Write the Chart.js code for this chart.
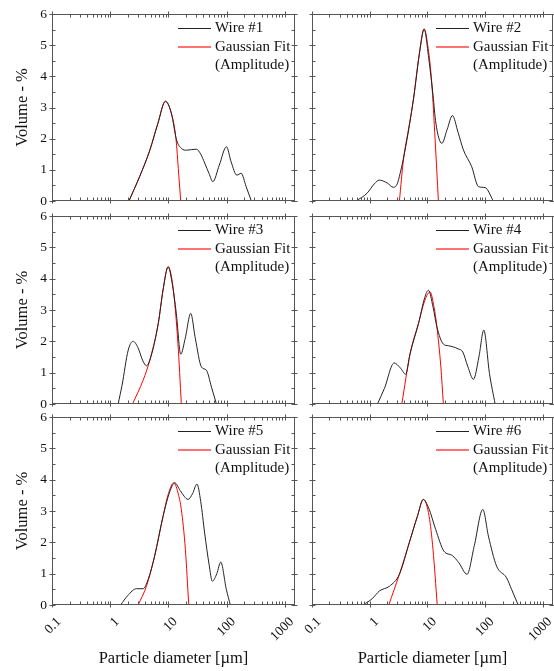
<!DOCTYPE html>
<html>
<head>
<meta charset="utf-8">
<title>Particle size distribution - wires 1 to 6</title>
<script src="https://cdn.jsdelivr.net/npm/chart.js@4.4.1/dist/chart.umd.min.js"></script>
<style>
  body { margin: 0; background: #fff; }
  #page { position: relative; width: 554px; height: 671px; overflow: hidden; }
  #page canvas { position: absolute; }
</style>
</head>
<body>
<div id="page"></div>
<script>
// tick labels
const xTickValues = [0.1, 1, 10, 100, 1000];
const yTickValues = [0, 1, 2, 3, 4, 5, 6];

// wire #1
const wire1Size = [2.1, 3.2, 4.8, 6.6, 8.9, 11.3, 13.8, 17, 20.4, 25, 30.4, 36, 42, 50, 58, 75, 99.6, 120, 150, 178, 217, 267];
const wire1Vol  = [0, 0.78, 1.63, 2.49, 3.2, 2.8, 1.96, 1.68, 1.63, 1.65, 1.66, 1.5, 1.22, 0.88, 0.62, 1.15, 1.74, 1.25, 0.83, 0.89, 0.46, 0];
const fit1Size  = [2.1, 3.2, 4.8, 6.6, 8.9, 11.3, 13.5, 15, 16.3];
const fit1Vol   = [0, 0.78, 1.63, 2.49, 3.2, 2.8, 2.0, 0.9, 0];

// wire #2
const wire2Size = [0.58, 0.9, 1.2, 1.47, 2.0, 2.57, 3.0, 3.37, 4.2, 5.7, 7.5, 8.77, 10.5, 12.5, 14, 17.8, 22, 27.1, 34, 42, 58.6, 76.7, 100, 139];
const wire2Vol  = [0, 0.25, 0.55, 0.67, 0.58, 0.44, 0.55, 0.89, 1.74, 3.24, 4.9, 5.52, 4.6, 3.4, 2.5, 1.85, 2.3, 2.74, 2.2, 1.64, 1.1, 0.46, 0.43, 0];
const fit2Size  = [3.27, 3.84, 4.7, 5.7, 7.2, 8.77, 10.3, 11.9, 13.6, 15.5];
const fit2Vol   = [0, 1.32, 2.3, 3.24, 4.7, 5.52, 4.9, 3.78, 1.96, 0];

// wire #3
const wire3Size = [1.37, 1.6, 2.04, 2.48, 3.0, 3.6, 4.2, 4.8, 6.7, 8.1, 9.9, 11.5, 13.7, 16.3, 19.5, 24.2, 29, 37, 45, 55, 67];
const wire3Vol  = [0, 0.6, 1.72, 2.0, 1.8, 1.4, 1.22, 1.4, 2.57, 3.64, 4.38, 3.9, 2.89, 1.59, 2.1, 2.89, 2.1, 1.18, 1.08, 0.54, 0];
const fit3Size  = [2.42, 3.68, 4.8, 6.7, 8.1, 9.9, 12, 14.6, 16.7];
const fit3Vol   = [0, 0.76, 1.4, 2.57, 3.64, 4.38, 3.74, 1.93, 0];

// wire #4
const wire4Size = [1.36, 1.8, 2.65, 3.4, 4.2, 5.0, 7.0, 9, 10.4, 12.5, 14.6, 18.9, 23, 28.2, 34, 41, 50, 62.7, 78, 94.8, 119, 149];
const wire4Vol  = [0, 0.5, 1.31, 1.15, 0.95, 1.6, 2.57, 3.4, 3.63, 3.1, 2.46, 1.91, 1.86, 1.82, 1.76, 1.66, 1.2, 0.79, 1.5, 2.36, 0.97, 0];
const fit4Size  = [3.6, 5.0, 7.0, 9.0, 11.1, 13, 14.6, 17.1, 18.9];
const fit4Vol   = [0, 1.6, 2.57, 3.3, 3.58, 3.1, 2.46, 1.18, 0];

// wire #5
const wire5Size = [1.51, 2.0, 2.83, 3.68, 4.5, 5.8, 8.1, 10.5, 12.9, 16, 21.8, 26, 31, 36, 42, 50, 57, 68, 79.4, 99, 116];
const wire5Vol  = [0, 0.3, 0.52, 0.52, 0.82, 1.56, 2.83, 3.6, 3.9, 3.65, 3.37, 3.55, 3.86, 3.3, 2.3, 1.3, 0.76, 1.0, 1.37, 0.5, 0];
const fit5Size  = [3.02, 4.2, 5.8, 8.1, 10, 12.4, 15, 16.7, 19.6, 22.4];
const fit5Vol   = [0, 0.6, 1.56, 2.83, 3.55, 3.9, 3.5, 3.05, 1.77, 0];

// wire #6
const wire6Size = [0.77, 1.1, 1.48, 2.2, 3.27, 4.85, 6.7, 8.5, 10.5, 13.9, 19.3, 26.9, 35, 48.6, 65, 91.2, 114, 158, 235, 287, 374];
const wire6Vol  = [0, 0.2, 0.45, 0.6, 0.98, 1.99, 2.83, 3.37, 3.1, 2.41, 1.72, 1.58, 1.35, 0.98, 1.9, 3.05, 2.2, 1.24, 0.87, 0.5, 0];
const fit6Size  = [2.14, 3.27, 4.85, 6.7, 8.5, 10.7, 12.5, 14.8];
const fit6Vol   = [0, 0.98, 1.99, 2.83, 3.37, 2.83, 1.77, 0];

const wireNames = ["Wire #1", "Wire #2", "Wire #3", "Wire #4", "Wire #5", "Wire #6"];
const fitName = ["Gaussian Fit", "(Amplitude)"];

const wires = [
  [wire1Size, wire1Vol, fit1Size, fit1Vol],
  [wire2Size, wire2Vol, fit2Size, fit2Vol],
  [wire3Size, wire3Vol, fit3Size, fit3Vol],
  [wire4Size, wire4Vol, fit4Size, fit4Vol],
  [wire5Size, wire5Vol, fit5Size, fit5Vol],
  [wire6Size, wire6Vol, fit6Size, fit6Vol],
];

const DATA_COLOR = "#222222";
const FIT_COLOR = "#ff0000";
const legendColors = [DATA_COLOR, FIT_COLOR];

const serif = "'Liberation Serif', 'Times New Roman', serif";
Chart.defaults.font.family = serif;
Chart.defaults.color = "#111";

// canvas boxes: columns and rows
const cols = [
  { left: 0, width: 300, yWidth: 52, padRight: 5 },
  { left: 300, width: 254, yWidth: 12, padRight: 1 },
];
const rows = [
  { top: 0, height: 208, padTop: 14, xHeight: 7 },
  { top: 208, height: 202, padTop: 8, xHeight: 6 },
  { top: 410, height: 261, padTop: 7, xHeight: 66 },
];

// box round the plot with Origin-style ticks on all four sides
const frameTicks = {
  id: "frameTicks",
  afterDatasetsDraw(chart) {
    const { ctx, chartArea: a, scales: { x, y } } = chart;
    const L = Math.round(a.left) + 0.5, R = Math.round(a.right) - 0.5;
    const T = Math.round(a.top) + 0.5, B = Math.round(a.bottom) - 0.5;
    ctx.save();
    ctx.strokeStyle = "#555";
    ctx.lineWidth = 1;
    ctx.strokeRect(L, T, R - L, B - T);
    ctx.beginPath();
    yTickValues.forEach((v) => {
      const py = Math.round(y.getPixelForValue(v)) + 0.5;
      ctx.moveTo(L - 3, py); ctx.lineTo(L + 3, py);
      ctx.moveTo(R - 3, py); ctx.lineTo(R + 3, py);
      if (v < 6) {
        const pm = Math.round(y.getPixelForValue(v + 0.5)) + 0.5;
        ctx.moveTo(L, pm); ctx.lineTo(L + 3, pm);
        ctx.moveTo(R - 3, pm); ctx.lineTo(R, pm);
      }
    });
    xTickValues.forEach((d) => {
      const px = Math.round(x.getPixelForValue(d)) + 0.5;
      ctx.moveTo(px, B - 3); ctx.lineTo(px, B + 3);
      ctx.moveTo(px, T - 3); ctx.lineTo(px, T + 3);
      for (let k = 2; k <= 9; k++) {
        if (d * k > x.max) break;
        const pm = Math.round(x.getPixelForValue(d * k)) + 0.5;
        ctx.moveTo(pm, B - 3); ctx.lineTo(pm, B);
        ctx.moveTo(pm, T); ctx.lineTo(pm, T + 3);
      }
    });
    ctx.stroke();
    ctx.restore();
  },
};

// legend inside the top right corner
const cornerLegend = {
  id: "cornerLegend",
  afterDatasetsDraw(chart) {
    const { ctx, chartArea: a } = chart;
    const rowsY = [14, 33, 51];
    ctx.save();
    ctx.font = "15px " + serif;
    ctx.textBaseline = "middle";
    ctx.textAlign = "left";
    let line = 0;
    chart.data.datasets.forEach((ds, di) => {
      const ly = Math.round(a.top + rowsY[line]);
      const x0 = Math.round(a.right) - 117;
      if (di === 0) {
        ctx.fillStyle = legendColors[di];
        ctx.fillRect(x0, ly, 33, 1);
      } else {
        // soft 2px red sample, as in the original export
        ctx.fillStyle = "rgba(255,0,0,0.55)";
        ctx.fillRect(x0, ly - 1, 33, 2);
      }
      ctx.fillStyle = "#111";
      ds.legendLines.forEach((t) => {
        ctx.fillText(t, a.right - 80, a.top + rowsY[line]);
        line++;
      });
    });
    ctx.restore();
  },
};

const page = document.getElementById("page");

wires.forEach((w, i) => {
  const col = cols[i % 2];
  const row = rows[Math.floor(i / 2)];
  const isLeft = i % 2 === 0;
  const isBottom = i >= 4;

  const canvas = document.createElement("canvas");
  canvas.width = col.width;
  canvas.height = row.height;
  canvas.style.left = col.left + "px";
  canvas.style.top = row.top + "px";
  canvas.style.width = col.width + "px";
  canvas.style.height = row.height + "px";
  page.appendChild(canvas);

  new Chart(canvas, {
    type: "scatter",
    data: {
      datasets: [
        {
          label: wireNames[i],
          legendLines: [wireNames[i]],
          data: w[0].map((s, k) => ({ x: s, y: w[1][k] })),
          borderColor: DATA_COLOR,
          borderWidth: 1,
        },
        {
          label: fitName.join(" "),
          legendLines: fitName,
          data: w[2].map((s, k) => ({ x: s, y: w[3][k] })),
          borderColor: FIT_COLOR,
          borderWidth: 1,
        },
      ],
    },
    options: {
      responsive: false,
      animation: false,
      devicePixelRatio: 1,
      showLine: true,
      elements: {
        point: { radius: 0, hoverRadius: 0 },
        line: { cubicInterpolationMode: "monotone", fill: false },
      },
      layout: { padding: { top: row.padTop, right: col.padRight, left: 0, bottom: 0 } },
      plugins: { legend: { display: false }, tooltip: { enabled: false } },
      scales: {
        x: {
          type: "logarithmic",
          min: 0.1,
          max: 1500,
          grid: { display: false, drawTicks: false },
          border: { display: false },
          afterBuildTicks: (s) => { s.ticks = xTickValues.map((v) => ({ value: v })); },
          afterFit: (s) => { s.height = row.xHeight; s.paddingLeft = 0; s.paddingRight = 0; },
          ticks: {
            display: isBottom,
            autoSkip: false,
            maxRotation: 45,
            minRotation: 45,
            padding: 9,
            labelOffset: 7,
            font: { size: 13.5 },
            color: "#111",
            callback: (v) => String(v),
          },
          title: {
            display: isBottom,
            text: "Particle diameter [µm]",
            font: { size: 16.5 },
            color: "#111",
            padding: { top: 0, bottom: 2 },
          },
        },
        y: {
          min: 0,
          max: 6,
          grid: { display: false, drawTicks: false },
          border: { display: false },
          afterBuildTicks: (s) => { s.ticks = yTickValues.map((v) => ({ value: v })); },
          afterFit: (s) => { s.width = col.yWidth; s.paddingTop = 0; s.paddingBottom = 0; },
          ticks: { display: isLeft, padding: 5, font: { size: 13.5 }, color: "#111" },
          title: {
            display: isLeft,
            text: "Volume - %",
            font: { size: 16.5 },
            color: "#111",
            padding: { top: 13, bottom: 0 },
          },
        },
      },
    },
    plugins: [frameTicks, cornerLegend],
  });
});
</script>
</body>
</html>
